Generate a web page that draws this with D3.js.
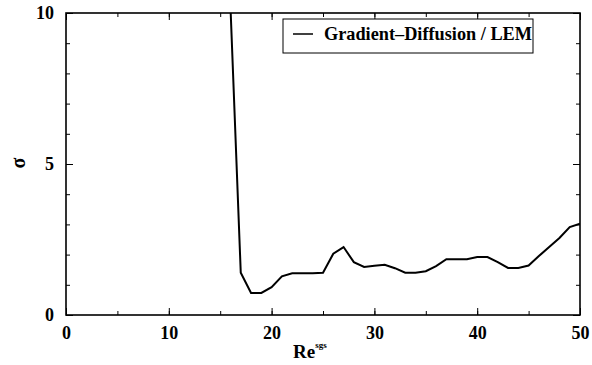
<!DOCTYPE html>
<html><head><meta charset="utf-8">
<script src="https://cdn.jsdelivr.net/npm/d3@7/dist/d3.min.js"></script>
<style>body{margin:0;background:#fff}svg{display:block}text{font-family:"Liberation Serif",serif}</style>
</head><body>
<script>
const reSgs = [16,17,18,19,20,21,22,23,24,25,26,27,28,29,30,31,32,33,34,35,36,37,38,39,40,41,42,43,44,45,46,47,48,49,50];
const sigma = [10.2,1.40,0.73,0.73,0.92,1.28,1.38,1.38,1.38,1.40,2.03,2.25,1.75,1.59,1.63,1.66,1.55,1.40,1.40,1.45,1.62,1.85,1.85,1.85,1.92,1.92,1.75,1.56,1.56,1.64,1.95,2.25,2.55,2.91,3.02];
const xTicks = [0,10,20,30,40,50];
const yTicks = [0,5,10];
const seriesName = "Gradient\u2013Diffusion / LEM";

const W = 592, H = 365;
const m = {l:66, r:12, t:13, b:50};
const svg = d3.select("body").append("svg").attr("width",W).attr("height",H);
const x = d3.scaleLinear().domain([0,50]).range([m.l, W-m.r]);
const y = d3.scaleLinear().domain([0,10]).range([H-m.b, m.t]);
const font = "Liberation Serif";

svg.append("defs").append("clipPath").attr("id","clip").append("rect")
  .attr("x",x(0)).attr("y",y(10)).attr("width",x(50)-x(0)).attr("height",y(0)-y(10));

const minorX = d3.range(0,51,5), minorY = d3.range(0,11,1);
function styleAxis(g){ g.select(".domain").remove(); g.selectAll("line").attr("stroke","#000").attr("stroke-width",1); }
function styleText(g){ g.selectAll("text").attr("font-family",font).attr("font-weight","bold").attr("font-size",18).attr("fill","#000"); }
svg.append("g").attr("transform",`translate(0,${y(0)})`)
  .call(d3.axisBottom(x).tickValues(minorX).tickSize(-4).tickFormat(""))
  .call(styleAxis);
svg.append("g").attr("transform",`translate(0,${y(0)})`)
  .call(d3.axisBottom(x).tickValues(xTicks).tickSize(-7).tickPadding(11).tickFormat(d3.format("d")))
  .call(styleAxis).call(styleText);
svg.append("g").attr("transform",`translate(0,${y(10)})`)
  .call(d3.axisTop(x).tickValues(minorX).tickSize(-4).tickFormat("")).call(styleAxis);
svg.append("g").attr("transform",`translate(0,${y(10)})`)
  .call(d3.axisTop(x).tickValues(xTicks).tickSize(-7).tickFormat("")).call(styleAxis);
svg.append("g").attr("transform",`translate(${x(0)},0)`)
  .call(d3.axisLeft(y).tickValues(minorY).tickSize(-4).tickFormat("")).call(styleAxis);
svg.append("g").attr("transform",`translate(${x(0)},0)`)
  .call(d3.axisLeft(y).tickValues(yTicks).tickSize(-7).tickPadding(12).tickFormat(d3.format("d")))
  .call(styleAxis).call(styleText);
svg.append("g").attr("transform",`translate(${x(50)},0)`)
  .call(d3.axisRight(y).tickValues(minorY).tickSize(-4).tickFormat("")).call(styleAxis);
svg.append("g").attr("transform",`translate(${x(50)},0)`)
  .call(d3.axisRight(y).tickValues(yTicks).tickSize(-7).tickFormat("")).call(styleAxis);

svg.append("rect").attr("x",x(0)).attr("y",y(10)).attr("width",x(50)-x(0)).attr("height",y(0)-y(10))
  .attr("fill","none").attr("stroke","#000").attr("stroke-width",1.6);

const data = reSgs.map((d,i)=>({x:d,y:sigma[i]}));
svg.append("path").datum(data).attr("clip-path","url(#clip)")
  .attr("fill","none").attr("stroke","#000").attr("stroke-width",2)
  .attr("d", d3.line().x(d=>x(d.x)).y(d=>y(d.y)));

const lg = svg.append("g");
lg.append("rect").attr("x",283).attr("y",19).attr("width",250).attr("height",34)
  .attr("fill","#fff").attr("stroke","#000").attr("stroke-width",1);
lg.append("line").attr("x1",293).attr("x2",313).attr("y1",34).attr("y2",34).attr("stroke","#000").attr("stroke-width",1.5);
lg.append("text").attr("x",324).attr("y",40).attr("textLength",208).attr("lengthAdjust","spacingAndGlyphs").text(seriesName)
  .attr("font-family",font).attr("font-weight","bold").attr("font-size",18).attr("fill","#000");

const xl = svg.append("text").attr("x",293).attr("y",358).attr("font-family",font).attr("font-weight","bold").attr("font-size",19).attr("fill","#000");
xl.append("tspan").text("Re");
xl.append("tspan").attr("dy",-10).attr("font-size",9).text("sgs");
svg.append("text").attr("transform","translate(25,163) rotate(-90)").attr("text-anchor","middle")
  .attr("font-family",font).attr("font-weight","bold").attr("font-size",20).attr("fill","#000").text("\u03c3");
</script>
</body></html>
